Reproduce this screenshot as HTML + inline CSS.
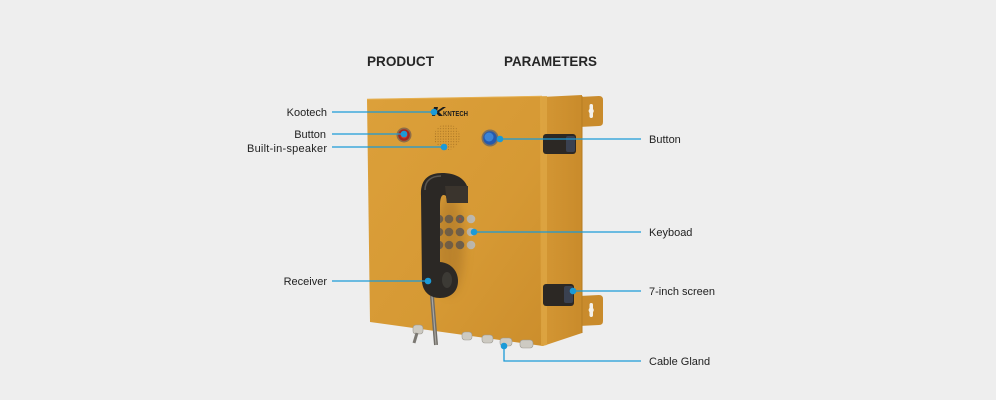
<!DOCTYPE html>
<html><head><meta charset="utf-8"><style>
html,body{margin:0;padding:0;background:#eeeeee;}
svg{display:block;}
text{font-family:"Liberation Sans",sans-serif;}
</style></head><body>
<svg width="996" height="400" viewBox="0 0 996 400" xmlns="http://www.w3.org/2000/svg">
<defs>
<linearGradient id="face" x1="0" y1="0" x2="1" y2="1">
<stop offset="0" stop-color="#dca03a"/><stop offset="0.6" stop-color="#d69934"/><stop offset="1" stop-color="#cc8e2c"/>
</linearGradient>
<linearGradient id="side" x1="0" y1="0" x2="1" y2="0">
<stop offset="0" stop-color="#d49734"/><stop offset="1" stop-color="#c98b2b"/>
</linearGradient>
<pattern id="dots" width="2.6" height="2.6" patternUnits="userSpaceOnUse">
<circle cx="1.3" cy="1.3" r="0.55" fill="#a06c22"/>
</pattern>
<filter id="blur" x="-50%" y="-50%" width="200%" height="200%"><feGaussianBlur stdDeviation="5"/></filter>
<clipPath id="spk"><circle cx="447" cy="137" r="13"/></clipPath>
</defs>
<rect width="996" height="400" fill="#eeeeee"/>

<!-- headings -->
<text x="367" y="66" font-size="14" font-weight="bold" fill="#262626" textLength="67" lengthAdjust="spacingAndGlyphs">PRODUCT</text>
<text x="504" y="66" font-size="14" font-weight="bold" fill="#262626" textLength="93" lengthAdjust="spacingAndGlyphs">PARAMETERS</text>

<!-- mounting tabs -->
<path d="M579,97 L599,96 Q603,96 603,100 L603,122 Q603,126 599,126 L579,127 Z" fill="#c98b2c"/>
<rect x="589.5" y="104" width="3.5" height="14" rx="1.7" fill="#f4f1ea"/>
<circle cx="591.2" cy="111" r="2.6" fill="#f4f1ea"/>
<path d="M579,296 L599,295 Q603,295 603,299 L603,321 Q603,325 599,325 L579,326 Z" fill="#c98b2c"/>
<rect x="589.5" y="303" width="3.5" height="14" rx="1.7" fill="#f4f1ea"/>
<circle cx="591.2" cy="310" r="2.6" fill="#f4f1ea"/>

<!-- side panel -->
<polygon points="541,97 582,95 582,333 543,346" fill="url(#side)"/>
<line x1="582" y1="96" x2="582" y2="333" stroke="#b87c22" stroke-width="1"/>
<!-- front face -->
<polygon points="367,99 542,96 543,346 370,322" fill="url(#face)"/>
<polygon points="540,96 547,96 547,345 541,346" fill="#dfa643" opacity="0.8"/>
<line x1="367" y1="99.3" x2="542" y2="96.3" stroke="#e6b050" stroke-width="1"/>

<!-- latches -->
<rect x="543" y="134" width="33" height="20" rx="3" fill="#2c2824"/>
<rect x="566" y="136" width="9" height="16" rx="2" fill="#3a4150"/>
<rect x="543" y="284" width="31" height="22" rx="3" fill="#2c2824"/>
<rect x="564" y="286" width="9" height="17" rx="2" fill="#3a4150"/>

<!-- glands -->
<g fill="#cdcac2" stroke="#9d9a92" stroke-width="0.6">
<rect x="413" y="325" width="10" height="9" rx="3"/>
<rect x="462" y="332" width="10" height="8" rx="3"/>
<rect x="482" y="335" width="11" height="8" rx="3"/>
<rect x="500" y="338" width="12" height="8" rx="3"/>
<rect x="520" y="340" width="13" height="8" rx="3"/>
</g>
<line x1="417" y1="333" x2="414" y2="343" stroke="#7b7872" stroke-width="3"/>

<!-- logo -->
<path d="M434,107 L438,107 L437,111 L443,107 L446,107 L439,112 L443,116 L439,116 L436,113 L435,116 L432,116 Z" fill="#1c1c1c"/>
<text x="443" y="116" font-size="7.5" font-weight="bold" fill="#1c1c1c" textLength="25" lengthAdjust="spacingAndGlyphs">KNTECH</text>

<!-- speaker -->
<circle cx="447" cy="137" r="13" fill="url(#dots)"/>

<!-- red button -->
<circle cx="404" cy="135" r="7.5" fill="#8e6d48"/>
<circle cx="404" cy="135" r="5.8" fill="#a3261f"/>
<circle cx="404" cy="135" r="3.5" fill="#cf3b2e"/>
<!-- blue button -->
<circle cx="490" cy="138" r="8.5" fill="#7d715e"/>
<circle cx="490" cy="138" r="6.8" fill="#2659ad"/>
<circle cx="489" cy="137" r="4.5" fill="#3d84d6"/>

<!-- keypad -->
<g fill="#64605a">
<circle cx="439" cy="219" r="4.3"/><circle cx="449" cy="219" r="4.3"/><circle cx="460" cy="219" r="4.3"/>
<circle cx="439" cy="232" r="4.3"/><circle cx="449" cy="232" r="4.3"/><circle cx="460" cy="232" r="4.3"/>
<circle cx="439" cy="245" r="4.3"/><circle cx="449" cy="245" r="4.3"/><circle cx="460" cy="245" r="4.3"/>
</g>
<g fill="#bcb8af">
<circle cx="471" cy="219" r="4.3"/><circle cx="471" cy="232" r="4.3"/><circle cx="471" cy="245" r="4.3"/>
</g>
<circle cx="460" cy="219" r="1" fill="#c33"/>

<!-- handset shadow -->
<ellipse cx="450" cy="245" rx="14" ry="50" fill="#8a5a1a" opacity="0.35" filter="url(#blur)"/>
<!-- cord -->
<path d="M432,296 L436,345" stroke="#6f6c66" stroke-width="4"/>
<path d="M432,296 L436,345" stroke="#a9a6a0" stroke-width="1.2"/>
<!-- handset -->
<path d="M421,196 C420,179 429,173 442,173 C455,173 464,178 467,186 L468,203 L447,203 L446,196 C442,193 440,197 440,206 L440,262 C452,263 458,272 458,281 C458,292 450,298 440,298 C430,298 423,292 422,282 Z" fill="#2b2825"/>
<path d="M445,186 L468,186 L468,203 L447,203 Z" fill="#3a342d"/>
<path d="M425,190 C425,180 432,176 441,176" stroke="#5a5650" stroke-width="1.5" fill="none"/>
<ellipse cx="447" cy="280" rx="5" ry="8" fill="#45413c" opacity="0.7"/>

<!-- connectors -->
<g stroke="#1b9ad7" stroke-width="1.3" fill="none">
<line x1="332" y1="112" x2="434" y2="112"/>
<line x1="332" y1="134" x2="404" y2="134"/>
<line x1="332" y1="147" x2="444" y2="147"/>
<line x1="332" y1="281" x2="428" y2="281"/>
<line x1="500" y1="139" x2="641" y2="139"/>
<line x1="474" y1="232" x2="641" y2="232"/>
<line x1="573" y1="291" x2="641" y2="291"/>
<polyline points="504,346 504,361 641,361"/>
</g>
<g fill="#1b9ad7">
<circle cx="434" cy="112" r="3.3"/>
<circle cx="404" cy="134" r="3.3"/>
<circle cx="444" cy="147" r="3.3"/>
<circle cx="428" cy="281" r="3.3"/>
<circle cx="500" cy="139" r="3.3"/>
<circle cx="474" cy="232" r="3.3"/>
<circle cx="573" cy="291" r="3.3"/>
<circle cx="504" cy="346" r="3.3"/>
</g>

<!-- labels -->
<g font-size="11" fill="#222">
<text x="327" y="116" text-anchor="end">Kootech</text>
<text x="326" y="138" text-anchor="end">Button</text>
<text x="327" y="152" text-anchor="end" textLength="80" lengthAdjust="spacing">Built-in-speaker</text>
<text x="327" y="285" text-anchor="end">Receiver</text>
<text x="649" y="143">Button</text>
<text x="649" y="236">Keyboad</text>
<text x="649" y="295">7-inch screen</text>
<text x="649" y="365">Cable Gland</text>
</g>
</svg>
</body></html>
